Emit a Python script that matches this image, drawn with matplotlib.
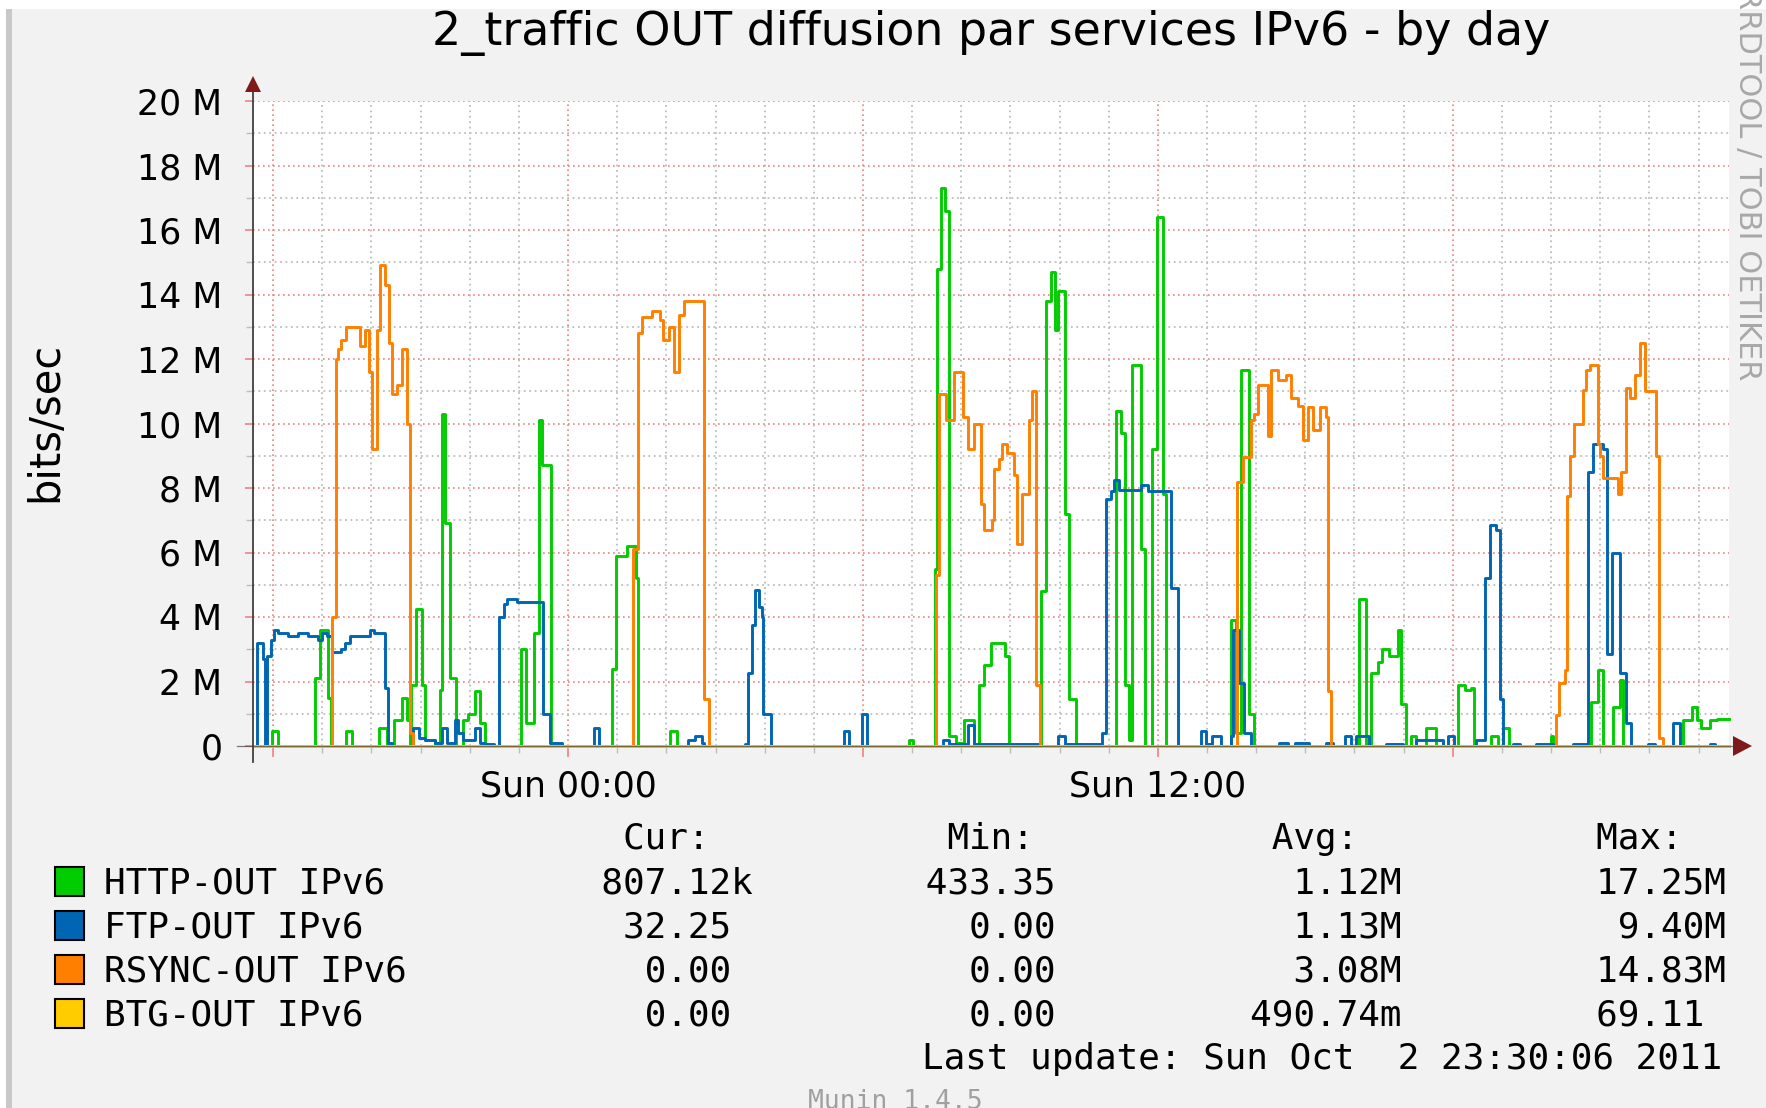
import matplotlib
matplotlib.use("Agg")
import matplotlib.pyplot as plt
from matplotlib.patches import Rectangle, Polygon
from matplotlib.lines import Line2D

W, H = 1766, 1108

title = "2_traffic OUT diffusion par services IPv6 - by day"
ylabel = "bits/sec"

# time axis in hours since Sat Oct 1 00:00 (graph ends Sun Oct 2 23:30)
x_start, x_end = 17.59, 47.62
major_hours = [18, 24, 30, 36, 42]
major_labels = ["", "Sun 00:00", "", "Sun 12:00", ""]
y_ticks = [0, 2, 4, 6, 8, 10, 12, 14, 16, 18, 20]
y_labels = ["0", "2 M", "4 M", "6 M", "8 M", "10 M", "12 M", "14 M", "16 M", "18 M", "20 M"]

# step series: (hour, Mbit/s) - value holds until next point
http = [(17.59, 0), (17.97, 0.45), (18.10, 0), (18.85, 2.1), (18.95, 3.6), (19.12, 1.5), (19.18, 0),
        (19.49, 0.45), (19.60, 0), (20.15, 0.55), (20.31, 0), (20.45, 0.8), (20.62, 1.5), (20.72, 0.8),
        (20.79, 0), (20.81, 1.9), (20.90, 4.25), (21.02, 1.9), (21.09, 0.2), (21.30, 0), (21.40, 1.75),
        (21.44, 10.3), (21.50, 6.9), (21.60, 2.1), (21.72, 0), (21.87, 0.8), (21.97, 1.0), (22.11, 1.7),
        (22.21, 0.7), (22.31, 0), (23.05, 3.0), (23.14, 0.7), (23.30, 3.5), (23.40, 10.1), (23.48, 8.7),
        (23.66, 0), (24.90, 2.4), (24.98, 5.9), (25.20, 6.2), (25.38, 5.2), (25.43, 0), (26.08, 0.45),
        (26.22, 0), (30.94, 0.2), (31.01, 0), (31.47, 5.5), (31.51, 14.8), (31.58, 17.3), (31.67, 16.6),
        (31.75, 0.3), (31.89, 0.1), (32.06, 0.8), (32.26, 0), (32.36, 1.9), (32.47, 2.5), (32.60, 3.2),
        (32.90, 2.8), (32.97, 0), (33.62, 4.8), (33.72, 13.8), (33.82, 14.7), (33.90, 12.9), (33.96, 14.1),
        (34.12, 7.2), (34.19, 1.45), (34.33, 0), (35.14, 10.4), (35.25, 9.7), (35.33, 1.9), (35.41, 0.2),
        (35.48, 11.8), (35.65, 6.1), (35.74, 0), (35.89, 9.2), (35.99, 16.4), (36.10, 7.8), (36.16, 0),
        (37.49, 3.9), (37.59, 0.4), (37.69, 11.65), (37.86, 1.0), (37.96, 0), (40.10, 4.55), (40.23, 0),
        (40.34, 2.25), (40.47, 2.6), (40.56, 3.0), (40.71, 2.8), (40.88, 3.6), (40.95, 1.3), (41.04, 0),
        (41.15, 0.3), (41.25, 0), (41.46, 0.55), (41.66, 0), (42.10, 1.9), (42.24, 1.75), (42.37, 1.8),
        (42.44, 0), (42.78, 0.3), (42.92, 0), (43.02, 0.55), (43.15, 0), (44.00, 0.3), (44.04, 0),
        (44.82, 1.35), (44.96, 2.35), (45.06, 0), (45.26, 1.2), (45.40, 2.05), (45.46, 0), (46.69, 0.8),
        (46.86, 1.2), (46.96, 0.8), (47.06, 0.55), (47.23, 0.8), (47.37, 0.85)]

ftp = [(17.59, 0), (17.68, 3.2), (17.80, 2.7), (17.84, 0), (17.88, 2.8), (17.95, 3.3), (18.02, 3.6),
       (18.10, 3.5), (18.30, 3.4), (18.50, 3.5), (18.70, 3.4), (18.92, 3.3), (19.00, 3.5), (19.10, 3.4),
       (19.20, 2.9), (19.39, 3.0), (19.46, 3.2), (19.56, 3.4), (19.97, 3.6), (20.05, 3.5), (20.28, 1.8),
       (20.34, 0.1), (20.41, 0), (20.85, 0.55), (20.96, 0.25), (21.09, 0.2), (21.30, 0.1), (21.43, 0.55),
       (21.53, 0.1), (21.70, 0.8), (21.77, 0.4), (21.87, 0.2), (22.11, 0.55), (22.21, 0.1), (22.31, 0.05),
       (22.50, 0), (22.59, 4.0), (22.69, 4.4), (22.76, 4.55), (22.96, 4.47), (23.49, 1.0), (23.64, 0.1),
       (23.88, 0), (24.52, 0.55), (24.62, 0), (26.45, 0.2), (26.59, 0.3), (26.72, 0.1), (26.76, 0),
       (27.61, 0.05), (27.66, 2.25), (27.74, 3.75), (27.81, 4.85), (27.88, 4.3), (27.95, 4.0), (27.96, 1.0),
       (28.12, 0), (29.61, 0.45), (29.71, 0), (29.99, 1.0), (30.09, 0), (31.62, 0.2), (31.75, 0.05),
       (32.13, 0.65), (32.26, 0.05), (33.60, 0), (33.96, 0.3), (34.12, 0.06), (34.87, 0.4), (34.94, 7.65),
       (35.04, 7.9), (35.11, 8.25), (35.21, 7.95), (35.65, 8.1), (35.79, 7.9), (36.26, 4.9), (36.40, 0),
       (36.88, 0.45), (36.98, 0.05), (37.11, 0.3), (37.28, 0), (37.49, 0.3), (37.52, 3.6), (37.66, 1.95),
       (37.76, 0.4), (37.90, 0), (38.47, 0.1), (38.64, 0), (38.78, 0.1), (39.08, 0), (39.42, 0.08),
       (39.56, 0), (39.80, 0.3), (39.93, 0), (40.03, 0.3), (40.30, 0), (40.64, 0.06), (40.98, 0),
       (41.25, 0.2), (41.80, 0), (41.90, 0.3), (42.03, 0), (42.48, 0.2), (42.65, 5.2), (42.75, 6.85),
       (42.88, 6.7), (42.96, 1.45), (43.02, 0), (43.22, 0.05), (43.36, 0), (43.70, 0.05), (44.04, 0),
       (44.45, 0.05), (44.75, 8.5), (44.85, 9.35), (45.06, 9.2), (45.14, 2.85), (45.23, 6.0), (45.40, 2.25),
       (45.53, 0.7), (45.63, 0), (45.97, 0.05), (46.11, 0), (46.48, 0.7), (46.62, 0), (47.23, 0.05),
       (47.33, 0)]

rsync = [(17.59, 0), (19.20, 4.0), (19.27, 12.0), (19.32, 12.3), (19.39, 12.6), (19.49, 13.0),
         (19.77, 12.4), (19.87, 12.9), (19.95, 11.6), (20.02, 9.2), (20.11, 12.9), (20.17, 14.9),
         (20.28, 14.3), (20.36, 12.5), (20.41, 10.9), (20.51, 11.2), (20.62, 12.3), (20.72, 10.0),
         (20.79, 0.4), (20.85, 0), (25.33, 6.1), (25.42, 12.8), (25.50, 13.3), (25.71, 13.5), (25.88, 13.2),
         (25.94, 12.6), (26.05, 13.0), (26.15, 11.6), (26.25, 13.35), (26.35, 13.8), (26.76, 1.45),
         (26.86, 0), (31.48, 5.3), (31.55, 10.9), (31.68, 10.1), (31.85, 11.6), (32.04, 10.2), (32.13, 9.2),
         (32.26, 10.0), (32.40, 7.5), (32.47, 6.7), (32.62, 7.0), (32.66, 8.6), (32.77, 8.9), (32.83, 9.35),
         (32.94, 9.1), (33.07, 8.4), (33.14, 6.25), (33.24, 7.8), (33.38, 10.1), (33.44, 11.0), (33.53, 1.9),
         (33.60, 0), (37.62, 8.2), (37.73, 8.95), (37.90, 10.1), (37.96, 10.3), (38.03, 11.2), (38.24, 9.6),
         (38.31, 11.65), (38.44, 11.35), (38.61, 11.5), (38.71, 10.8), (38.85, 10.55), (38.95, 9.5),
         (39.05, 10.5), (39.15, 9.8), (39.29, 10.5), (39.42, 10.2), (39.46, 1.7), (39.53, 0), (44.11, 0.95),
         (44.17, 1.95), (44.28, 2.35), (44.32, 7.75), (44.38, 9.0), (44.46, 10.0), (44.65, 11.05),
         (44.72, 11.65), (44.79, 11.8), (44.96, 9.35), (44.99, 9.0), (45.06, 8.3), (45.36, 7.8), (45.43, 8.5),
         (45.52, 11.1), (45.60, 10.8), (45.70, 11.5), (45.80, 12.5), (45.91, 11.0), (46.14, 9.0),
         (46.20, 0.25), (46.28, 0)]

btg = [(17.59, 0)]

names = ["HTTP-OUT IPv6", "FTP-OUT IPv6", "RSYNC-OUT IPv6", "BTG-OUT IPv6"]
colors = ["#00CC00", "#0066B3", "#FF8000", "#FFCC00"]
cur_vals = ["807.12k", "32.25 ", "0.00 ", "0.00 "]
min_vals = ["433.35 ", "0.00 ", "0.00 ", "0.00 "]
avg_vals = ["1.12M", "1.13M", "3.08M", "490.74m"]
max_vals = ["17.25M", "9.40M", "14.83M", "69.11 "]
last_update = "Last update: Sun Oct  2 23:30:06 2011"


def fx(px):
    return px / W


def fy(py):
    return 1 - py / H


fig = plt.figure(figsize=(W / 100, H / 100), dpi=100, facecolor="#F2F2F2")

# frame strips
fig.patches.append(Rectangle((0, fy(9)), 1, 9 / H, transform=fig.transFigure,
                             facecolor="white", edgecolor="none"))
fig.patches.append(Rectangle((0, 0), fx(6), 1, transform=fig.transFigure,
                             facecolor="white", edgecolor="none"))
fig.patches.append(Rectangle((fx(6), 0), fx(6), fy(9), transform=fig.transFigure,
                             facecolor="#C8C8C8", edgecolor="none"))

ax = fig.add_axes([fx(253), fy(746), (1729 - 253) / W, (746 - 101) / H])
ax.set_facecolor("white")
for s in ax.spines.values():
    s.set_visible(False)

ax.set_xlim(x_start, x_end)
ax.set_ylim(0, 20)
ax.set_xticks(major_hours)
ax.set_xticklabels(major_labels)
ax.set_xticks(range(18, 48), minor=True)
ax.set_yticks(y_ticks)
ax.set_yticklabels(y_labels)
ax.set_yticks(range(1, 20, 2), minor=True)

red = "#F08080"
grey = "#BDBDBD"
dots = (0, (1, 2))
ax.set_axisbelow(True)
ax.grid(which="major", color=red, linestyle=dots, linewidth=1.2)
ax.grid(which="minor", color=grey, linestyle=dots, linewidth=1.3)
ax.tick_params(axis="x", which="major", length=8, width=1.2, color=red, pad=9, labelsize=25)
ax.tick_params(axis="x", which="minor", length=5, width=1.0, color=grey)
ax.tick_params(axis="y", which="major", length=6, width=1.2, color=red, pad=16, labelsize=25)
ax.tick_params(axis="y", which="minor", length=5, width=1.0, color=grey)

for data, col in zip([http, ftp, rsync, btg], colors):
    t = [p[0] for p in data] + [x_end]
    v = [p[1] for p in data] + [data[-1][1]]
    ax.step(t, v, where="post", color=col, linewidth=2.1, clip_on=False, zorder=3)

# axes lines and arrows
axis_col = "#404040"
arrow_col = "#7F1A1A"
fig.lines.append(Line2D([fx(253), fx(253)], [fy(762), fy(90)], transform=fig.transFigure,
                        color=axis_col, linewidth=1.3, zorder=5))
fig.lines.append(Line2D([fx(237), fx(1734)], [fy(746), fy(746)], transform=fig.transFigure,
                        color=axis_col, linewidth=0.9, alpha=0.7, zorder=5))
fig.patches.append(Polygon([(fx(245), fy(92)), (fx(261), fy(92)), (fx(253), fy(76))],
                           closed=True, transform=fig.transFigure, facecolor=arrow_col,
                           edgecolor="none", zorder=6))
fig.patches.append(Polygon([(fx(1733), fy(736)), (fx(1733), fy(756)), (fx(1752), fy(746))],
                           closed=True, transform=fig.transFigure, facecolor=arrow_col,
                           edgecolor="none", zorder=6))

fig.text(fx(991), fy(45), title, ha="center", va="baseline", fontsize=33)
fig.text(fx(45), fy(422), ylabel, rotation=90, ha="center", va="center", fontsize=30)
fig.text(fx(1748), 1 + 12 / H, "RRDTOOL / TOBI OETIKER", rotation=270, ha="center", va="top",
         fontsize=22, color="#A8A8A8")

# legend
mono = "DejaVu Sans Mono"
fs = 25.9
header = " " * 24 + "Cur:" + " " * 11 + "Min:" + " " * 11 + "Avg:" + " " * 11 + "Max:"
fig.text(fx(104), fy(849), header, ha="left", va="baseline", family=mono, fontsize=fs)
baselines = [893, 937, 981, 1025]
for i, name in enumerate(names):
    row = (name.ljust(23) + cur_vals[i].rjust(7) + min_vals[i].rjust(15)
           + avg_vals[i].rjust(15) + max_vals[i].rjust(15))
    fig.text(fx(104), fy(baselines[i]), row, ha="left", va="baseline", family=mono, fontsize=fs)
    fig.patches.append(Rectangle((fx(55), fy(baselines[i] + 3)), 29 / W, 29 / H,
                                 transform=fig.transFigure, facecolor=colors[i],
                                 edgecolor="black", linewidth=1.5))
fig.text(fx(922), fy(1069), last_update, ha="left", va="baseline", family=mono, fontsize=fs)
fig.text(fx(895), fy(1109), "Munin 1.4.5", ha="center", va="baseline", family=mono,
         fontsize=19, color="#A0A0A0")

fig.savefig("out.png", dpi=100, facecolor=fig.get_facecolor())
